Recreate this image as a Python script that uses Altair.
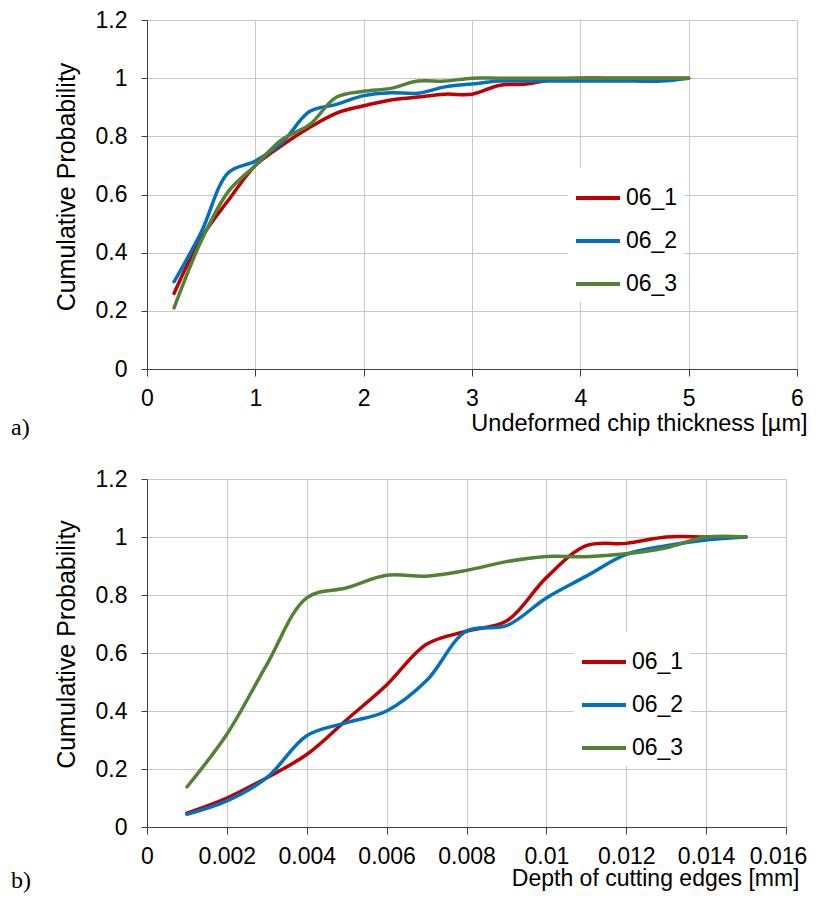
import altair as alt
import pandas as pd

series = ["06_1", "06_2", "06_3"]
colors = ["#C00000", "#0070C0", "#548235"]

# Panel a) undeformed chip thickness [µm]
a_x = [0.25, 0.5, 0.75, 1.0, 1.25, 1.5, 1.75, 2.0, 2.25, 2.5,
       2.75, 3.0, 3.25, 3.5, 3.75, 4.0, 4.25, 4.5, 4.75, 5.0]
a_06_1 = [0.26, 0.45, 0.58, 0.70, 0.77, 0.83, 0.88, 0.905, 0.925, 0.935,
          0.945, 0.945, 0.975, 0.98, 0.995, 1.0, 1.0, 1.0, 1.0, 1.0]
a_06_2 = [0.30, 0.47, 0.675, 0.715, 0.78, 0.885, 0.91, 0.94, 0.95, 0.948,
          0.97, 0.98, 0.99, 0.99, 0.99, 0.99, 0.99, 0.99, 0.99, 1.0]
a_06_3 = [0.21, 0.44, 0.61, 0.70, 0.79, 0.84, 0.935, 0.955, 0.965, 0.99,
          0.99, 1.0, 1.0, 1.0, 1.0, 1.0, 1.0, 1.0, 1.0, 1.0]

# Panel b) depth of cutting edges [mm]
b_x = [0.001, 0.002, 0.003, 0.004, 0.005, 0.006, 0.007, 0.008,
       0.009, 0.010, 0.011, 0.012, 0.013, 0.014, 0.015]
b_06_1 = [0.048, 0.10, 0.17, 0.25, 0.37, 0.49, 0.63, 0.675,
          0.71, 0.86, 0.97, 0.978, 1.0, 1.0, 1.0]
b_06_2 = [0.044, 0.09, 0.17, 0.315, 0.36, 0.40, 0.505, 0.676,
          0.694, 0.79, 0.865, 0.94, 0.97, 0.99, 1.0]
b_06_3 = [0.138, 0.32, 0.56, 0.79, 0.825, 0.868, 0.865, 0.885,
          0.915, 0.933, 0.932, 0.942, 0.963, 1.0, 1.0]

a_ticks = [0, 1, 2, 3, 4, 5, 6]
b_ticks = [0, 0.002, 0.004, 0.006, 0.008, 0.01, 0.012, 0.014, 0.016]
y_ticks = [0, 0.2, 0.4, 0.6, 0.8, 1.0, 1.2]


def long_df(xs, ys_list):
    rows = []
    for name, ys in zip(series, ys_list):
        for x, y in zip(xs, ys):
            rows.append({"x": x, "y": y, "series": name})
    return pd.DataFrame(rows)


df_a = long_df(a_x, [a_06_1, a_06_2, a_06_3])
df_b = long_df(b_x, [b_06_1, b_06_2, b_06_3])

FONT = "Liberation Sans"
FS = 23
GRID = "#c8c8c8"
AXC = "#404040"


def panel(df, width, height, xdom, xticks, xtitle, x_title_dx, x_title_dy,
          x_title_fs, label_pad, last_shift, letter, letter_dy, legx, legy,
          ytitle_dy):
    last = xticks[-1]
    xaxis = alt.Axis(values=xticks, format="~g", grid=True, gridColor=GRID,
                     domainColor=AXC, tickColor=AXC, tickSize=7,
                     labelPadding=label_pad, labelBaseline="alphabetic",
                     labelOffset={"condition": {"test": f"datum.value >= {last}",
                                                "value": last_shift},
                                  "value": 0},
                     labelFont=FONT, labelFontSize=FS, labelColor="#000",
                     labelFlush=False, labelOverlap=False,
                     title=xtitle, titleX=width + x_title_dx, titleY=x_title_dy,
                     titleAlign="right", titleBaseline="alphabetic",
                     titleFont=FONT, titleFontSize=x_title_fs,
                     titleFontWeight="normal", titleColor="#000")
    yaxis = alt.Axis(values=y_ticks, format="~g", grid=True, gridColor=GRID,
                     domainColor=AXC, tickColor=AXC, tickSize=6,
                     labelPadding=14, labelFont=FONT, labelFontSize=FS,
                     labelColor="#000", labelFlush=False, labelOverlap=False,
                     title="Cumulative Probability", titleX=-81,
                     titleY=height / 2 + ytitle_dy, titleAngle=-90,
                     titleAlign="center", titleBaseline="middle",
                     titleFont=FONT, titleFontSize=25, titleFontWeight="normal",
                     titleColor="#000")
    legend = alt.Legend(orient="none", legendX=legx, legendY=legy, title=None,
                        symbolType="stroke", symbolSize=1936,
                        symbolStrokeWidth=4, labelFont=FONT, labelFontSize=FS,
                        labelColor="#000", labelOffset=4, padding=6,
                        fillColor="white", rowPadding=7)
    lines = alt.Chart(df).mark_line(
        interpolate="catmull-rom", strokeWidth=3.5, strokeCap="round"
    ).encode(
        x=alt.X("x:Q", scale=alt.Scale(domain=xdom, nice=False), axis=xaxis),
        y=alt.Y("y:Q", scale=alt.Scale(domain=[0, 1.2], nice=False), axis=yaxis),
        color=alt.Color("series:N", scale=alt.Scale(domain=series, range=colors),
                        legend=legend),
    )
    lab = alt.Chart(pd.DataFrame({"t": [letter]})).mark_text(
        font="Liberation Serif", fontSize=24, align="left",
        baseline="alphabetic", color="#000"
    ).encode(text="t:N", x=alt.value(-136), y=alt.value(height + letter_dy))
    return alt.layer(lines, lab).properties(width=width, height=height)


pa = panel(df_a, 650, 349, [0, 6], a_ticks, "Undeformed chip thickness [µm]",
           10, 61, 23.5, 29, 0, "a)", 66, 421, 148, -8)
pb = panel(df_b, 639, 348, [0, 0.016], b_ticks, "Depth of cutting edges [mm]",
           13, 58, 23, 29, -8, "b)", 61, 427, 153, -9)

chart = alt.vconcat(pa, pb, spacing=26).resolve_scale(
    color="independent").resolve_legend(color="independent").properties(
    padding={"left": 2, "top": 0, "right": 0, "bottom": 0}
).configure_view(stroke=None).configure(background="white")

chart.save("out.html", embed_options={"renderer": "svg", "actions": False})
